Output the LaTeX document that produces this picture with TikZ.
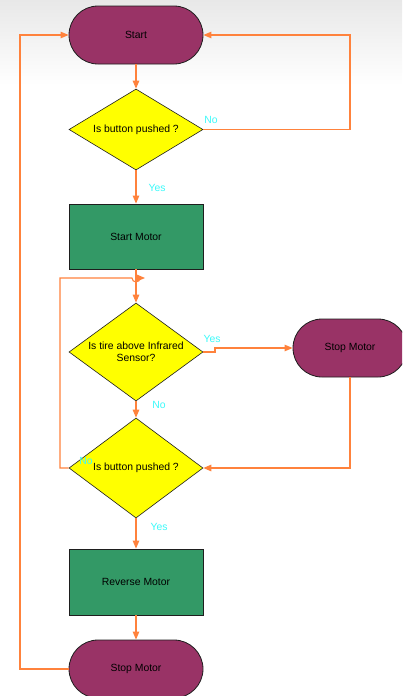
\documentclass[tikz,border=0pt]{standalone}
\usepackage{fontspec}
\setmainfont{Liberation Sans}
\usetikzlibrary{shapes.geometric,arrows.meta}
\definecolor{termfill}{RGB}{153,51,102}
\definecolor{procfill}{RGB}{51,153,102}
\definecolor{decfill}{RGB}{255,255,0}
\definecolor{flow}{RGB}{255,130,60}
\definecolor{lbl}{RGB}{60,250,250}
\definecolor{edge}{RGB}{30,30,30}
\tikzset{
  x=1pt,y=-1pt,
  every node/.style={font=\fontsize{10.4}{12.5}\selectfont, text=black},
  term/.style={draw=edge, line width=0.8pt, fill=termfill, rounded corners=29pt, minimum width=134pt, minimum height=58pt, inner sep=0pt},
  proc/.style={draw=edge, line width=0.8pt, fill=procfill, minimum width=134pt, minimum height=65pt, inner sep=0pt},
  dec/.style={draw=edge, line width=0.6pt, fill=decfill, diamond, minimum width=134pt, inner sep=0pt, align=center},
  conn/.style={draw=flow, line width=1.1pt, -{Triangle[length=8pt,width=6.5pt]}},
  lab/.style={text=lbl, inner sep=0pt}
}
\begin{document}
\begin{tikzpicture}
\clip (0,0) rectangle (402,696);
\fill[white] (0,0) rectangle (402,696);
\shade[top color=black!9, bottom color=white] (0,0) rectangle (402,85);
% nodes
\node[term] (start) at (136,35) {Start};
\node[dec, minimum height=81pt, aspect=1.9] (d1) at (136,129.5) {Is button pushed ?};
\node[proc] (m1) at (136,236.5) {Start Motor};
\node[dec, minimum height=98pt, aspect=1.6] (d2) at (136,352) {Is tire above Infrared\\Sensor?};
\node[term, minimum width=114pt] (sm1) at (350,348) {Stop Motor};
\node[dec, minimum height=100pt, aspect=1.6] (d3) at (136,468) {Is button pushed ?};
\node[proc, minimum height=66pt] (m2) at (136,582) {Reverse Motor};
\node[term] (sm2) at (136,669) {Stop Motor};
\coordinate (j) at (145,278);
% connectors
\draw[conn] (start) -- (d1);
\draw[conn] (d1) -- (m1);
\draw[conn] (d1.east) -- (350,129.5) |- (start.east);
\draw[conn] (m1) -- (d2);
\draw[conn] (d3.west) -- (60,468) -- (60,278) -- (132,278) arc[start angle=180,end angle=0,radius=4] -- (j);
\draw[conn] (d2.east) -- (215,352) -- (215,348) -- (sm1.west);
\draw[conn] (d2) -- (d3);
\draw[conn] (sm1.south) |- (d3.east);
\draw[conn] (d3) -- (m2);
\draw[conn] (m2) -- (sm2);
\draw[conn] (sm2.west) -- (20,669) |- (start.west);
% labels
\node[lab] at (211,120) {No};
\node[lab] at (157,188) {Yes};
\node[lab] at (212,339) {Yes};
\node[lab] at (159,405) {No};
\node[lab] at (86,461) {No};
\node[lab] at (159,527) {Yes};
\end{tikzpicture}
\end{document}
